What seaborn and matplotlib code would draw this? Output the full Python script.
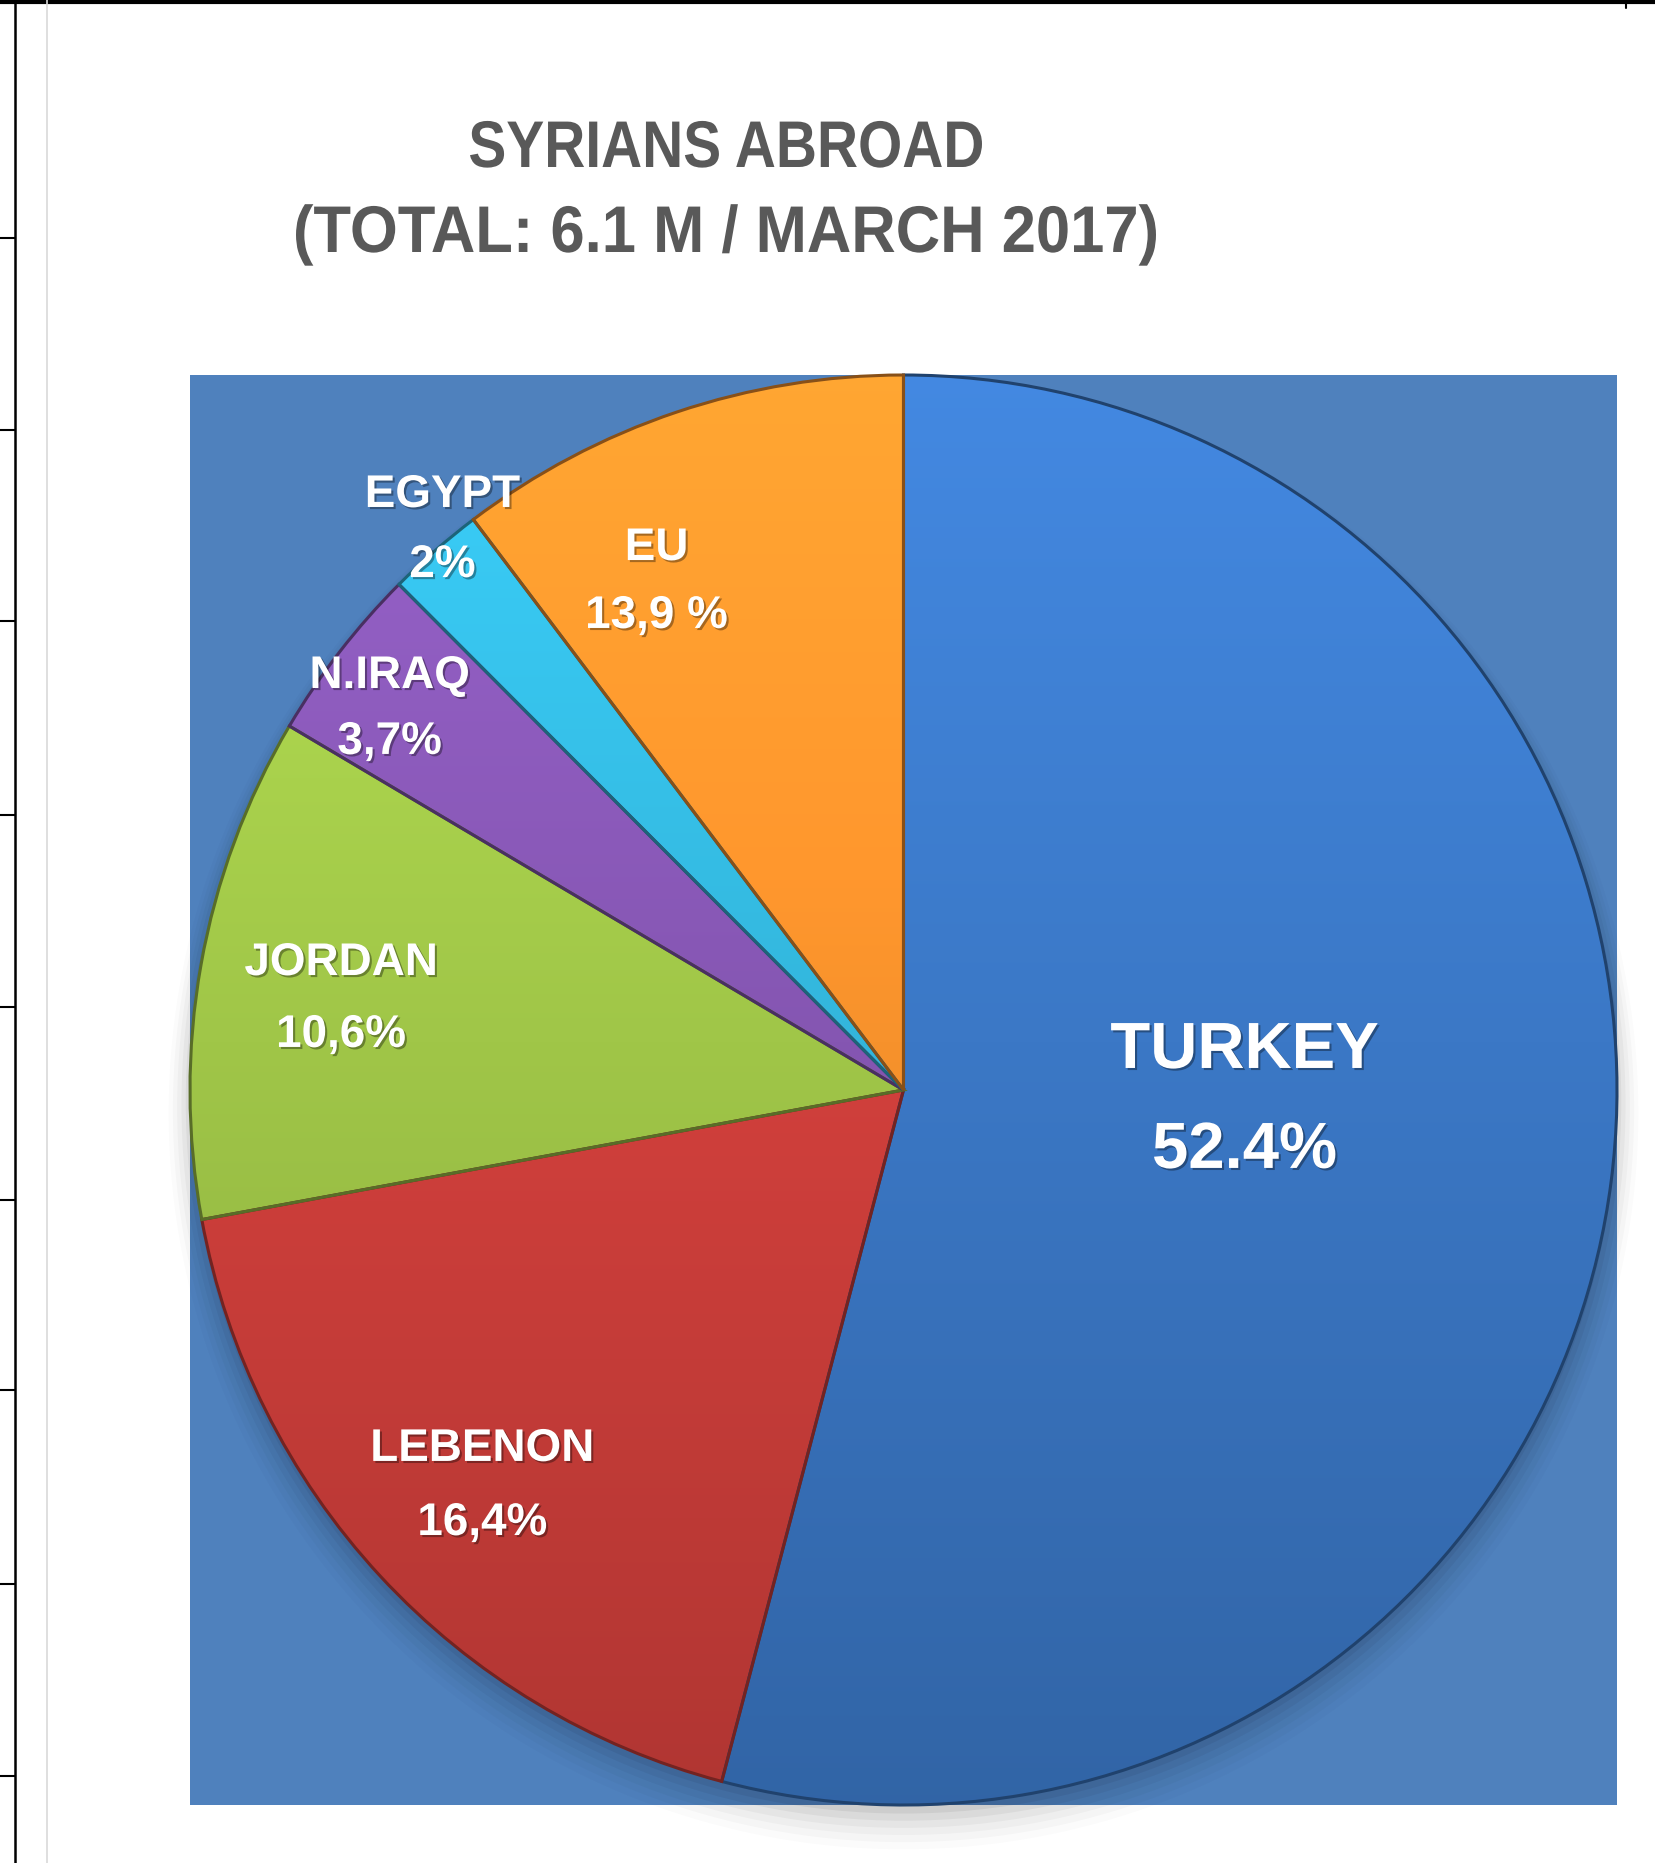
"""
Syrians abroad, March 2017: pie of host regions, drawn Excel-style.
"""
import matplotlib
matplotlib.use("Agg")
import matplotlib.pyplot as plt
import matplotlib.patheffects as pe
from matplotlib.font_manager import FontProperties
from matplotlib.lines import Line2D
from matplotlib.patches import Circle, PathPatch
from matplotlib.textpath import TextPath
from matplotlib.transforms import Affine2D, IdentityTransform
import numpy as np
import seaborn as sns

# ---- data -------------------------------------------------------------
regions = ["TURKEY", "LEBENON", "JORDAN", "N.IRAQ", "EGYPT", "EU"]
# slice sizes as drawn in the picture (percent of the full circle)
slice_share = [54.1, 18.0, 11.4, 4.0, 2.2, 10.3]
# percentages as printed on the slices
printed_pct = ["52.4%", "16,4%", "10,6%", "3,7%", "2%", "13,9 %"]

title_lines = ["SYRIANS ABROAD", "(TOTAL: 6.1 M / MARCH 2017)"]

# ---- style ------------------------------------------------------------
slice_colors = ["#3b78c6", "#d2403c", "#a0c648", "#8556b2", "#33b6dc", "#f7922c"]
BG_BLUE = "#4f81bd"
TITLE_GREY = "#595959"

sns.set_theme(style="white")
plt.rcParams["font.family"] = ["Liberation Sans", "DejaVu Sans"]

W, H = 1655, 1863
fig = plt.figure(figsize=(W / 100, H / 100), dpi=100)
fig.patch.set_facecolor("white")

# blue plot area (pixel box 190..1617 x 375..1805)
ax = fig.add_axes([190 / W, 1 - 1805 / H, 1427 / W, 1430 / H])

# soft shadow under the pie
for i, a in enumerate(np.linspace(0.05, 0.015, 6)):
    ax.add_patch(Circle((0, -0.012 - 0.004 * i), 1.0 + 0.006 * i,
                        color="black", alpha=a, lw=0, zorder=0.5, clip_on=False))

wedges, _ = ax.pie(slice_share, colors=slice_colors, startangle=90,
                   counterclock=False, radius=1.0, center=(0, 0),
                   wedgeprops=dict(linewidth=0, zorder=1))

# vertical light-to-dark gradient inside each wedge for the bevel look
t = np.linspace(0, 1, 400)[:, None]
shade = 1.14 - 0.30 * t
for w, c in zip(wedges, slice_colors):
    rgb = np.array(matplotlib.colors.to_rgb(c))
    img = np.clip(shade[:, :, None] * rgb[None, None, :], 0, 1)
    im = ax.imshow(img, extent=(-1, 1, -1, 1), origin="upper",
                   aspect="auto", zorder=1.5, interpolation="bilinear")
    im.set_clip_path(w)

# dark seams between the slices and around the rim
edge_cols = [tuple(np.array(matplotlib.colors.to_rgb(c)) * 0.55) for c in slice_colors]
ax.pie(slice_share, startangle=90, counterclock=False, radius=1.0,
       center=(0, 0),
       wedgeprops=dict(fill=False, linewidth=2.2, zorder=2))
for w, ec in zip(ax.patches[-len(slice_share):], edge_cols):
    w.set_edgecolor(ec)

ax.set_xlim(-1.0, 1.0)
ax.set_ylim(-1.0, 1.0)
ax.set_aspect("auto")
ax.set_frame_on(True)
ax.set_facecolor(BG_BLUE)
for s in ax.spines.values():
    s.set_visible(False)
ax.set_xticks([])
ax.set_yticks([])

# ---- slice labels -----------------------------------------------------
# (x, name baseline, value baseline) in axes fraction
label_pos = [
    (0.739, 0.5154, 0.4455),
    (0.205, 0.2406, 0.1888),
    (0.106, 0.5804, 0.5301),
    (0.140, 0.7811, 0.7350),
    (0.177, 0.9077, 0.8587),
    (0.327, 0.8706, 0.8231),
]
label_size = [47, 33, 33, 33, 33, 33]
txt_fx = [pe.withSimplePatchShadow(offset=(1.5, -1.5), shadow_rgbFace="black", alpha=0.35)]

for name, pct, (x, y1, y2), fs in zip(regions, printed_pct, label_pos, label_size):
    for s, y in ((name, y1), (pct, y2)):
        ax.text(x, y, s, transform=ax.transAxes, ha="center", va="baseline",
                fontsize=fs, fontweight="bold", color="white",
                path_effects=txt_fx, zorder=5)

# ---- title (condensed bold, squeezed to the reference width) ----------
title_fp = FontProperties(family="Liberation Sans", weight="bold")
# (centre x px, baseline y px from top, target width px)
title_box = [(726, 167, 512), (726, 252, 860)]
for line, (cx, base, width) in zip(title_lines, title_box):
    tp = TextPath((0, 0), line, size=66, prop=title_fp)
    ext = tp.get_extents()
    sx = width / ext.width
    tr = (Affine2D().translate(-ext.x0 - ext.width / 2, 0).scale(sx, 1.0)
          .translate(cx, H - base) + IdentityTransform())
    fig.add_artist(PathPatch(tp, transform=tr, facecolor=TITLE_GREY,
                             edgecolor="none", lw=0))

# ---- sheet frame around the chart -------------------------------------
def fig_line(x0, y0, x1, y1, color="black", lw=2.0):
    fig.add_artist(Line2D([x0 / W, x1 / W], [1 - y0 / H, 1 - y1 / H],
                          transform=fig.transFigure, color=color, lw=lw))

fig_line(0, 2, W, 2, lw=3.0)
fig_line(15, 0, 15, H, lw=1.8)
fig_line(47, 0, 47, H, color="#d9d9d9", lw=1.2)
fig_line(1626, 0, 1626, 8, lw=1.5)
for yy in (238, 430, 621, 815, 1007, 1200, 1390, 1584, 1776):
    fig_line(0, yy, 15, yy, lw=1.5)

fig.savefig("out.png", dpi=100, facecolor="white")
